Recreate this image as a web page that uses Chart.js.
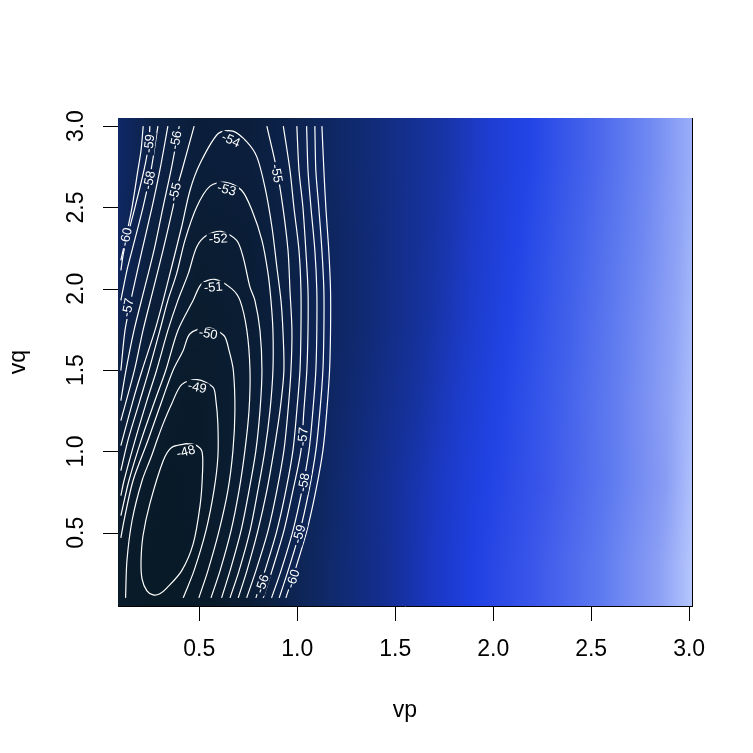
<!DOCTYPE html>
<html>
<head>
<meta charset="utf-8">
<script src="https://cdn.jsdelivr.net/npm/chart.js@4.4.1/dist/chart.umd.min.js"></script>
<style>
  html, body { margin: 0; padding: 0; background: #ffffff; }
  #wrap { width: 753px; height: 753px; }
</style>
</head>
<body>
<div id="wrap"><canvas id="chart" width="753" height="753"></canvas></div>
<script>
// axis ticks
const xTicks = [0.5, 1.0, 1.5, 2.0, 2.5, 3.0];
const xTickLabels = ['0.5', '1.0', '1.5', '2.0', '2.5', '3.0'];
const yTicks = [0.5, 1.0, 1.5, 2.0, 2.5, 3.0];
const yTickLabels = ['0.5', '1.0', '1.5', '2.0', '2.5', '3.0'];
const xTitle = 'vp';
const yTitle = 'vq';

// image extent (grid 0.1..3.0, cells centred on grid points)
const xMin = 0.0854, xMax = 3.0146;
const yMin = 0.05, yMax = 3.05;

// image colours, read per horizontal band (bottom to top): [vp, colour]
const bandVq = [0.05, 0.55, 1.05, 1.55, 2.05, 2.55, 3.05];
const bandStops0 = [[0.085,'#0a1b2a'],[0.3,'#081a26'],[0.55,'#091b2a'],[0.75,'#0b1e36'],[0.95,'#0d234e'],[1.15,'#0f2968'],[1.45,'#142e92'],[1.7,'#1a38c4'],[1.9,'#2040e2'],[2.2,'#3a56ea'],[2.55,'#5e7af0'],[2.85,'#8ca0f5'],[3.015,'#b6c6fd']];
const bandStops1 = [[0.085,'#0b1d30'],[0.35,'#081a27'],[0.6,'#0a1c2e'],[0.85,'#0b1f3c'],[1.05,'#0d2454'],[1.2,'#0f296c'],[1.5,'#15309a'],[1.75,'#1b3ac8'],[1.97,'#2142e4'],[2.28,'#3c58ea'],[2.6,'#5e7af0'],[2.88,'#889cf4'],[3.015,'#b0c0fc']];
const bandStops2 = [[0.085,'#0c2040'],[0.25,'#0a1d32'],[0.45,'#091b2a'],[0.7,'#0a1d32'],[0.95,'#0c2044'],[1.15,'#0e2660'],[1.3,'#102a74'],[1.6,'#16329e'],[1.82,'#1c3cca'],[2.04,'#2244e6'],[2.35,'#4060eb'],[2.65,'#6680f0'],[2.9,'#8ea2f5'],[3.015,'#aabcfb']];
const bandStops3 = [[0.085,'#0e2452'],[0.25,'#0b1e38'],[0.5,'#0a1c2e'],[0.75,'#0a1d34'],[1.0,'#0c2148'],[1.2,'#0e2762'],[1.35,'#102a74'],[1.65,'#16329e'],[1.88,'#1c3cca'],[2.09,'#2244e6'],[2.4,'#4262eb'],[2.7,'#6a84f1'],[2.93,'#90a4f6'],[3.015,'#a6b8fa']];
const bandStops4 = [[0.085,'#0f2760'],[0.25,'#0c2040'],[0.5,'#0a1d32'],[0.75,'#0a1d36'],[1.0,'#0c224a'],[1.2,'#0e2762'],[1.4,'#112b7a'],[1.7,'#1733a2'],[1.92,'#1d3ccc'],[2.13,'#2244e6'],[2.45,'#4464eb'],[2.75,'#6c86f1'],[2.95,'#90a4f6'],[3.015,'#a0b4f9']];
const bandStops5 = [[0.085,'#0f2868'],[0.25,'#0d2248'],[0.5,'#0a1e3a'],[0.75,'#0b1e3c'],[1.0,'#0d234e'],[1.2,'#0f2866'],[1.45,'#122d80'],[1.75,'#1834a6'],[1.97,'#1e3dd0'],[2.18,'#2244e6'],[2.5,'#4664ec'],[2.8,'#7089f2'],[3.015,'#9aaef8']];
const bandStops = [bandStops0, bandStops1, bandStops2, bandStops3, bandStops4, bandStops5];

// contour lines [vp, vq]
const line48 = [[0.432,1.048],[0.359,1.025],[0.316,0.943],[0.248,0.679],[0.213,0.482],[0.203,0.328],[0.208,0.217],[0.233,0.143],[0.265,0.118],[0.299,0.125],[0.334,0.160],[0.410,0.266],[0.469,0.432],[0.504,0.666],[0.516,0.851],[0.514,0.999],[0.478,1.042],[0.432,1.048]];
const line49 = [[0.124,0.10],[0.131,0.328],[0.157,0.574],[0.208,0.820],[0.254,0.964],[0.284,1.067],[0.316,1.171],[0.359,1.292],[0.410,1.411],[0.490,1.442],[0.570,1.395],[0.585,1.313],[0.595,1.171],[0.595,0.964],[0.575,0.759],[0.534,0.512],[0.473,0.266],[0.418,0.10]];
const line50 = [[0.100,0.469],[0.116,0.574],[0.162,0.820],[0.238,1.067],[0.310,1.313],[0.366,1.498],[0.418,1.621],[0.453,1.724],[0.544,1.762],[0.626,1.713],[0.652,1.621],[0.674,1.498],[0.682,1.251],[0.672,1.005],[0.646,0.759],[0.601,0.512],[0.544,0.266],[0.498,0.10]];
const line51 = [[0.100,0.605],[0.141,0.820],[0.203,1.067],[0.274,1.313],[0.329,1.498],[0.391,1.744],[0.469,1.929],[0.512,2.031],[0.580,2.058],[0.665,2.001],[0.708,1.929],[0.743,1.744],[0.759,1.498],[0.754,1.251],[0.733,1.005],[0.703,0.759],[0.662,0.512],[0.606,0.266],[0.560,0.10]];
const line52 = [[0.100,0.728],[0.116,0.820],[0.172,1.067],[0.233,1.313],[0.282,1.498],[0.340,1.744],[0.391,1.929],[0.444,2.093],[0.487,2.257],[0.538,2.329],[0.611,2.353],[0.691,2.298],[0.724,2.195],[0.759,2.010],[0.784,1.929],[0.810,1.744],[0.820,1.498],[0.810,1.251],[0.789,1.005],[0.754,0.759],[0.713,0.512],[0.657,0.266],[0.614,0.10]];
const line53 = [[0.100,0.882],[0.136,1.067],[0.197,1.313],[0.243,1.498],[0.299,1.744],[0.340,1.929],[0.385,2.095],[0.427,2.298],[0.487,2.503],[0.555,2.631],[0.636,2.655],[0.716,2.606],[0.769,2.483],[0.820,2.298],[0.851,2.095],[0.866,1.929],[0.876,1.744],[0.876,1.498],[0.861,1.251],[0.835,1.005],[0.799,0.759],[0.759,0.512],[0.703,0.266],[0.657,0.10]];
const line54 = [[0.100,1.036],[0.162,1.313],[0.208,1.498],[0.274,1.744],[0.316,1.929],[0.359,2.134],[0.410,2.380],[0.453,2.606],[0.504,2.770],[0.597,2.955],[0.672,2.969],[0.743,2.903],[0.794,2.811],[0.835,2.626],[0.871,2.380],[0.896,2.134],[0.917,1.929],[0.927,1.744],[0.932,1.498],[0.912,1.251],[0.881,1.005],[0.845,0.759],[0.799,0.512],[0.743,0.266],[0.699,0.10]];
const line55a = [[0.100,1.190],[0.169,1.498],[0.213,1.744],[0.264,1.990],[0.315,2.236],[0.366,2.501],[0.381,2.595],[0.412,2.729],[0.474,3.0]];
const line55b = [[0.845,3.0],[0.896,2.729],[0.927,2.501],[0.953,2.236],[0.963,1.990],[0.973,1.744],[0.968,1.498],[0.953,1.251],[0.932,1.005],[0.896,0.759],[0.851,0.512],[0.789,0.266],[0.742,0.10]];
const line56a = [[0.100,1.313],[0.126,1.498],[0.167,1.744],[0.218,1.990],[0.269,2.236],[0.315,2.501],[0.356,2.729],[0.398,3.0]];
const line56b = [[0.929,3.0],[0.963,2.729],[0.983,2.501],[1.009,2.236],[1.019,1.990],[1.019,1.744],[1.014,1.498],[0.998,1.251],[0.978,1.005],[0.942,0.759],[0.896,0.512],[0.835,0.266],[0.789,0.10]];
const line57a = [[0.100,1.498],[0.121,1.744],[0.144,1.885],[0.162,1.990],[0.208,2.236],[0.259,2.501],[0.299,2.729],[0.340,3.0]];
const line57b = [[0.998,3.0],[1.009,2.729],[1.029,2.501],[1.044,2.236],[1.055,1.990],[1.055,1.744],[1.049,1.498],[1.034,1.251],[1.019,1.005],[0.978,0.759],[0.932,0.512],[0.871,0.266],[0.827,0.10]];
const line58a = [[0.100,1.929],[0.131,2.113],[0.157,2.236],[0.213,2.501],[0.254,2.729],[0.289,3.0]];
const line58b = [[1.048,3.0],[1.055,2.729],[1.070,2.501],[1.090,2.236],[1.100,1.990],[1.100,1.744],[1.095,1.498],[1.080,1.251],[1.060,1.005],[1.024,0.759],[0.978,0.512],[0.917,0.266],[0.869,0.10]];
const line59a = [[0.100,2.113],[0.116,2.236],[0.172,2.501],[0.218,2.729],[0.243,2.895],[0.248,3.0]];
const line59b = [[1.090,3.0],[1.095,2.729],[1.110,2.501],[1.126,2.236],[1.136,1.990],[1.136,1.744],[1.131,1.498],[1.116,1.251],[1.095,1.005],[1.060,0.759],[1.014,0.512],[0.953,0.266],[0.908,0.10]];
const line60a = [[0.100,2.175],[0.126,2.317],[0.157,2.501],[0.187,2.729],[0.203,2.852],[0.214,3.0]];
const line60b = [[1.126,3.0],[1.136,2.729],[1.146,2.501],[1.161,2.236],[1.170,1.990],[1.170,1.744],[1.165,1.498],[1.151,1.251],[1.131,1.005],[1.095,0.759],[1.049,0.512],[0.988,0.266],[0.942,0.10]];

const contourPieces = [
  [-48, line48], [-49, line49], [-50, line50], [-51, line51], [-52, line52],
  [-53, line53], [-54, line54], [-55, line55a], [-55, line55b], [-56, line56a],
  [-56, line56b], [-57, line57a], [-57, line57b], [-58, line58a], [-58, line58b],
  [-59, line59a], [-59, line59b], [-60, line60a], [-60, line60b]
];

// contour labels
const labelLevels = [-48, -49, -50, -51, -52, -53, -54, -59, -56, -58, -55, -60, -57, -55, -57, -58, -59, -60, -56];
const labelVp = [0.432, 0.490, 0.546, 0.571, 0.597, 0.640, 0.662, 0.245, 0.381, 0.245, 0.376, 0.126, 0.136, 0.895, 1.029, 1.034, 1.010, 0.978, 0.821];
const labelVq = [0.999, 1.395, 1.724, 2.010, 2.308, 2.610, 2.914, 2.893, 2.914, 2.667, 2.595, 2.318, 1.885, 2.709, 1.091, 0.810, 0.492, 0.217, 0.186];

const FONT = '"Liberation Sans", Arial, Helvetica, sans-serif';

// direction of a contour piece around a point, as a chord of +-10 px along the line
function directionAt(pix, px, py) {
    let best = Infinity, s0 = 0, acc = 0;
    const cum = [0];
    for (let k = 0; k < pix.length - 1; k++) {
        const [ax, ay] = pix[k], [bx, by] = pix[k + 1];
        const dx = bx - ax, dy = by - ay;
        const len = Math.hypot(dx, dy) || 1e-6;
        let t = ((px - ax) * dx + (py - ay) * dy) / (len * len);
        t = Math.max(0, Math.min(1, t));
        const d = Math.hypot(ax + t * dx - px, ay + t * dy - py);
        if (d < best) { best = d; s0 = acc + t * len; }
        acc += len;
        cum.push(acc);
    }
    const at = s => {
        s = Math.max(0, Math.min(acc, s));
        let k = 0;
        while (k < cum.length - 2 && cum[k + 1] < s) k++;
        const seg = cum[k + 1] - cum[k] || 1e-6;
        const t = (s - cum[k]) / seg;
        return [pix[k][0] + t * (pix[k + 1][0] - pix[k][0]), pix[k][1] + t * (pix[k + 1][1] - pix[k][1])];
    };
    const p1 = at(s0 - 10), p2 = at(s0 + 10);
    return { dist: best, ang: Math.atan2(p2[1] - p1[1], p2[0] - p1[0]) };
}

function labelGeometry(chart) {
    const { ctx, scales: { x, y } } = chart;
    ctx.save();
    ctx.font = '13px ' + FONT;
    const out = labelLevels.map((lev, i) => {
        const px = x.getPixelForValue(labelVp[i]);
        const py = y.getPixelForValue(labelVq[i]);
        let best = Infinity, ang = 0;
        contourPieces.forEach(([l, pts]) => {
            if (l !== lev) return;
            const pix = pts.map(p => [x.getPixelForValue(p[0]), y.getPixelForValue(p[1])]);
            const r = directionAt(pix, px, py);
            if (r.dist < best) { best = r.dist; ang = r.ang; }
        });
        if (ang > Math.PI / 2) ang -= Math.PI;
        if (ang <= -Math.PI / 2) ang += Math.PI;
        const text = String(lev);
        const w = ctx.measureText(text).width;
        return { px, py, ang, text, w };
    });
    ctx.restore();
    return out;
}

function drawImageBands(chart) {
    const { ctx, chartArea: a, scales: { x, y } } = chart;
    const W = chart.width, H = chart.height;
    const x0 = x.getPixelForValue(xMin), x1 = x.getPixelForValue(xMax);
    const accC = document.createElement('canvas');
    accC.width = W; accC.height = H;
    const actx = accC.getContext('2d');
    const tmpC = document.createElement('canvas');
    tmpC.width = W; tmpC.height = H;
    const tctx = tmpC.getContext('2d');
    const n = bandStops.length;
    const centres = bandStops.map((s, i) => y.getPixelForValue((bandVq[i] + bandVq[i + 1]) / 2));
    const f = py => Math.max(0, Math.min(1, (py - a.top) / (a.bottom - a.top)));
    bandStops.forEach((stops, i) => {
        tctx.globalCompositeOperation = 'source-over';
        tctx.clearRect(0, 0, W, H);
        const g = tctx.createLinearGradient(x0, 0, x1, 0);
        stops.forEach(([v, c]) => g.addColorStop(Math.max(0, Math.min(1, (x.getPixelForValue(v) - x0) / (x1 - x0))), c));
        tctx.fillStyle = g;
        tctx.fillRect(a.left, a.top, a.right - a.left, a.bottom - a.top);
        // blend neighbouring bands between their centres
        tctx.globalCompositeOperation = 'destination-in';
        const vg = tctx.createLinearGradient(0, a.top, 0, a.bottom);
        if (i < n - 1) vg.addColorStop(f(centres[i + 1]), 'rgba(0,0,0,0)');
        else vg.addColorStop(0, 'rgba(0,0,0,1)');
        vg.addColorStop(f(centres[i]), 'rgba(0,0,0,1)');
        if (i > 0) vg.addColorStop(f(centres[i - 1]), 'rgba(0,0,0,0)');
        else vg.addColorStop(1, 'rgba(0,0,0,1)');
        tctx.fillStyle = vg;
        tctx.fillRect(a.left, a.top, a.right - a.left, a.bottom - a.top);
        actx.globalCompositeOperation = 'lighter';
        actx.drawImage(tmpC, 0, 0);
    });
    ctx.drawImage(accC, 0, 0);
}

const rPlot = {
    id: 'rPlot',
    beforeDatasetsDraw(chart) {
        const { ctx, chartArea: a } = chart;
        ctx.save();
        drawImageBands(chart);
        ctx.restore();

        // gaps in the lines where labels sit
        chart.$labels = labelGeometry(chart);
        ctx.save();
        ctx.beginPath();
        ctx.rect(a.left, a.top, a.right - a.left, a.bottom - a.top);
        chart.$labels.forEach(L => {
            const hw = L.w / 2 + 2, hh = 6;
            const c = Math.cos(L.ang), s = Math.sin(L.ang);
            const corners = [[-hw, -hh], [hw, -hh], [hw, hh], [-hw, hh]].map(([u, v]) =>
                [L.px + u * c - v * s, L.py + u * s + v * c]);
            ctx.moveTo(corners[0][0], corners[0][1]);
            for (let k = 1; k < 4; k++) ctx.lineTo(corners[k][0], corners[k][1]);
            ctx.closePath();
        });
        ctx.clip('evenodd');
    },
    afterDatasetsDraw(chart) {
        const { ctx } = chart;
        ctx.restore();
        ctx.save();
        ctx.fillStyle = '#ffffff';
        ctx.font = '13px ' + FONT;
        ctx.textAlign = 'center';
        ctx.textBaseline = 'middle';
        chart.$labels.forEach(L => {
            ctx.save();
            ctx.translate(L.px, L.py);
            ctx.rotate(L.ang);
            ctx.fillText(L.text, 0, 0.5);
            ctx.restore();
        });
        ctx.restore();
    },
    afterDraw(chart) {
        const { ctx, chartArea: a, scales: { x, y } } = chart;
        ctx.save();
        ctx.strokeStyle = '#000000';
        ctx.lineWidth = 1;
        ctx.beginPath();
        // box: bottom and right sides show in the original
        ctx.moveTo(a.left, a.bottom + 0.5);
        ctx.lineTo(a.right + 1, a.bottom + 0.5);
        ctx.moveTo(a.right + 0.5, a.top);
        ctx.lineTo(a.right + 0.5, a.bottom + 1);
        // ticks
        xTicks.forEach(v => {
            const px = Math.round(x.getPixelForValue(v)) + 0.5;
            ctx.moveTo(px, a.bottom);
            ctx.lineTo(px, a.bottom + 15);
        });
        yTicks.forEach(v => {
            const py = Math.round(y.getPixelForValue(v)) + 0.5;
            ctx.moveTo(a.left, py);
            ctx.lineTo(a.left - 15, py);
        });
        ctx.stroke();

        ctx.fillStyle = '#000000';
        ctx.font = '23px ' + FONT;
        ctx.textAlign = 'center';
        ctx.textBaseline = 'alphabetic';
        xTicks.forEach((v, i) => {
            ctx.fillText(xTickLabels[i], x.getPixelForValue(v), a.bottom + 50);
        });
        yTicks.forEach((v, i) => {
            ctx.save();
            ctx.translate(a.left - 35, y.getPixelForValue(v));
            ctx.rotate(-Math.PI / 2);
            ctx.fillText(yTickLabels[i], 0, 0);
            ctx.restore();
        });
        ctx.fillText(xTitle, (a.left + a.right) / 2, a.bottom + 111);
        ctx.save();
        ctx.translate(a.left - 93, (a.top + a.bottom) / 2);
        ctx.rotate(-Math.PI / 2);
        ctx.fillText(yTitle, 0, 0);
        ctx.restore();
        ctx.restore();
    }
};

const datasets = contourPieces.map(([lev, pts]) => ({
    label: String(lev),
    data: pts.map(p => ({ x: p[0], y: p[1] })),
    showLine: true,
    borderColor: '#ffffff',
    borderWidth: 1.2,
    pointRadius: 0,
    tension: 0.3,
    fill: false
}));

new Chart(document.getElementById('chart'), {
    type: 'scatter',
    data: { datasets },
    options: {
        responsive: false,
        animation: false,
        events: [],
        layout: { padding: { left: 118, right: 61, top: 118, bottom: 147 } },
        plugins: { legend: { display: false }, tooltip: { enabled: false } },
        scales: {
            x: { type: 'linear', min: xMin, max: xMax, display: false },
            y: { type: 'linear', min: yMin, max: yMax, display: false }
        }
    },
    plugins: [rPlot]
});
</script>
</body>
</html>
